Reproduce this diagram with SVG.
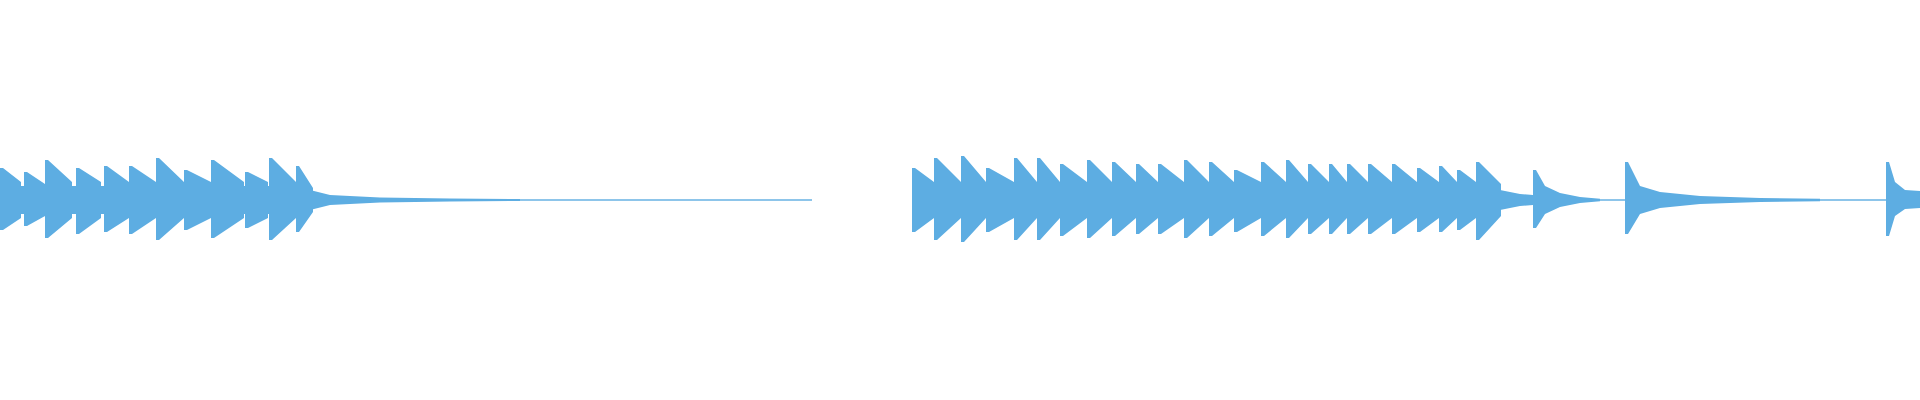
<svg xmlns="http://www.w3.org/2000/svg" width="1920" height="400" viewBox="0 0 1920 400">
<style>.w{fill:#5dade2;stroke:none}</style>
<rect width="1920" height="400" fill="#fff"/>
<g id="waveform" class="w">
<rect x="0" y="199.3" width="812" height="1.4"/>
<rect x="912" y="199.3" width="1008" height="1.4"/>
<path d="M0,186 L300,186 L310,190 L330,195 L380,197.5 L450,198.5 L520,199 L520,201 L450,201.5 L380,202.5 L330,205 L310,210 L300,214 L0,214 Z"/>
<path d="M912,184 L1476,184 L1476,216 L912,216 Z"/>
<path d="M1476,182 L1490,188 L1520,194 L1533,195 L1533,205 L1520,206 L1490,212 L1476,218 Z"/>
<path d="M1533,170 L1536,170 L1545,186 L1560,193 L1580,197 L1600,198.8 L1600,201.2 L1580,203 L1560,207 L1545,214 L1536,228 L1533,228 Z"/>
<path d="M1625,162 L1628,162 L1640,186 L1660,192 L1700,196 L1760,198 L1820,198.8 L1820,201.2 L1760,202 L1700,204 L1660,208 L1640,214 L1628,234 L1625,234 Z"/>
<path d="M1886,162 L1889,162 L1895,182 L1905,190 L1920,191 L1920,208 L1905,209 L1895,216 L1889,236 L1886,236 Z"/>
<path id="spikes" d="
M0,168 h3 l18,14 v36 l-18,12 h-3 Z
M24,172 h3 l18,12 v32 l-18,10 h-3 Z
M45,160 h3 l24,22 v36 l-24,20 h-3 Z
M76,168 h3 l22,14 v36 l-22,16 h-3 Z
M104,166 h3 l22,16 v36 l-22,14 h-3 Z
M129,166 h3 l24,16 v36 l-24,16 h-3 Z
M156,158 h3 l25,24 v36 l-25,22 h-3 Z
M184,170 h3 l24,12 v36 l-24,12 h-3 Z
M211,160 h3 l30,22 v36 l-30,20 h-3 Z
M245,172 h3 l20,10 v36 l-20,10 h-3 Z
M269,158 h3 l24,24 v36 l-24,22 h-3 Z
M296,166 h3 l14,22 v24 l-14,20 h-3 Z
M912,168 h3 l19,14 v36 l-19,14 h-3 Z
M934,158 h3 l24,24 v36 l-24,22 h-3 Z
M961,156 h3 l22,26 v36 l-22,24 h-3 Z
M986,168 h3 l25,14 v36 l-25,14 h-3 Z
M1014,158 h3 l20,24 v36 l-20,22 h-3 Z
M1037,158 h3 l20,24 v36 l-20,22 h-3 Z
M1060,164 h3 l24,18 v36 l-24,18 h-3 Z
M1087,160 h3 l22,22 v36 l-22,20 h-3 Z
M1112,162 h3 l21,20 v36 l-21,18 h-3 Z
M1136,164 h3 l19,18 v36 l-19,16 h-3 Z
M1158,164 h3 l23,18 v36 l-23,16 h-3 Z
M1184,160 h3 l22,22 v36 l-22,20 h-3 Z
M1209,162 h3 l22,20 v36 l-22,18 h-3 Z
M1234,170 h3 l24,12 v36 l-24,14 h-3 Z
M1261,162 h3 l22,20 v36 l-22,18 h-3 Z
M1286,160 h3 l19,22 v36 l-19,20 h-3 Z
M1308,164 h3 l18,18 v36 l-18,16 h-3 Z
M1329,164 h3 l15,18 v36 l-15,16 h-3 Z
M1347,164 h3 l18,18 v36 l-18,16 h-3 Z
M1368,164 h3 l21,18 v36 l-21,16 h-3 Z
M1392,164 h3 l22,18 v36 l-22,16 h-3 Z
M1417,168 h3 l19,14 v36 l-19,14 h-3 Z
M1439,166 h3 l15,16 v36 l-15,14 h-3 Z
M1457,170 h3 l16,12 v36 l-16,12 h-3 Z
M1476,162 h3 l22,22 v32 l-22,24 h-3 Z"/>
</g>
</svg>
